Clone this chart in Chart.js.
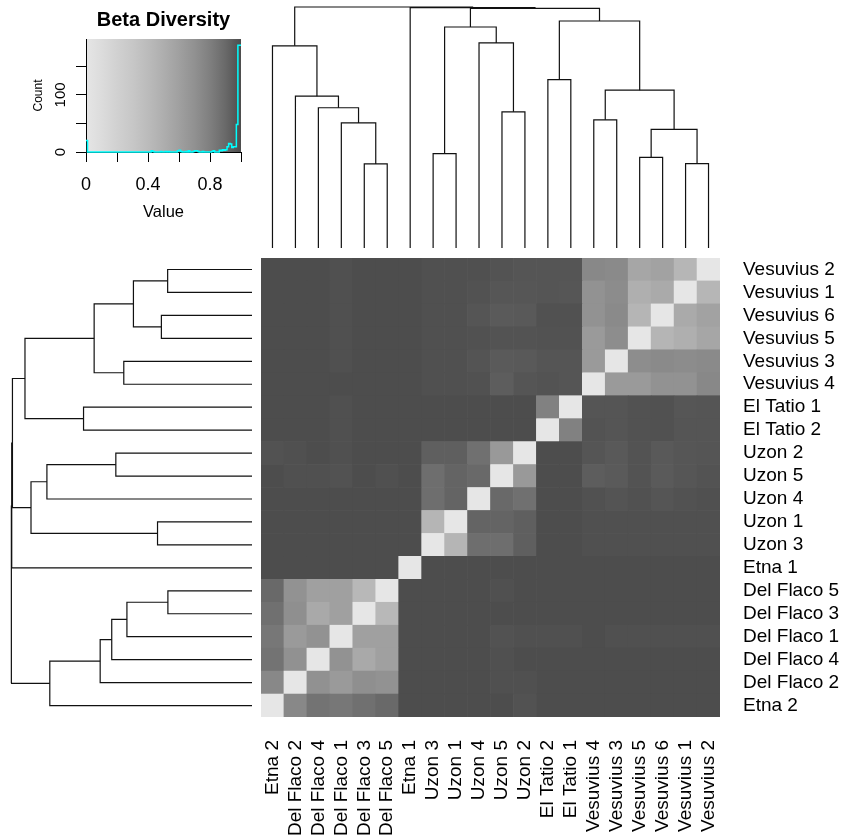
<!DOCTYPE html>
<html>
<head>
<meta charset="utf-8">
<title>Beta Diversity heatmap</title>
<script src="https://cdn.jsdelivr.net/npm/chart.js@4.4.1/dist/chart.umd.min.js"></script>
<style>
  html, body { margin: 0; padding: 0; background: #fff; }
  #wrap { position: relative; width: 843px; height: 839px; overflow: hidden; }
  canvas { position: absolute; }
</style>
</head>
<body>
<div id="wrap">
  <canvas id="key" width="255" height="235" style="left:0;top:0"></canvas>
  <canvas id="topDendro" width="459" height="258" style="left:261px;top:0"></canvas>
  <canvas id="leftDendro" width="261" height="459" style="left:0;top:258px"></canvas>
  <canvas id="heat" width="582" height="581" style="left:261px;top:258px"></canvas>
</div>
<script>
// samples in dendrogram order (columns left->right, rows bottom->top)
var sampleLabels = ['Etna 2', 'Del Flaco 2', 'Del Flaco 4', 'Del Flaco 1', 'Del Flaco 3', 'Del Flaco 5',
    'Etna 1', 'Uzon 3', 'Uzon 1', 'Uzon 4', 'Uzon 5', 'Uzon 2', 'El Tatio 2', 'El Tatio 1',
    'Vesuvius 4', 'Vesuvius 3', 'Vesuvius 5', 'Vesuvius 6', 'Vesuvius 1', 'Vesuvius 2'];

// beta diversity between samples (same order as sampleLabels)
var betaDiversity = [
    [0, .75, .86, .84, .87, .90, 1, 1, 1, 1, 1, .985, 1, 1, 1, 1, 1, 1, 1, 1],
    [.75, 0, .70, .64, .71, .69, 1, 1, 1, 1, .99, .99, 1, 1, 1, 1, 1, 1, 1, 1],
    [.86, .70, 0, .69, .54, .60, 1, 1, 1, 1, .99, 1, 1, 1, 1, 1, 1, 1, 1, 1],
    [.84, .64, .69, 0, .60, .60, 1, 1, 1, 1, .985, .99, .99, .99, 1, .99, .99, .99, .99, .99],
    [.87, .71, .54, .60, 0, .42, 1, 1, 1, 1, 1, 1, 1, 1, 1, 1, 1, 1, 1, 1],
    [.90, .69, .60, .60, .42, 0, 1, 1, 1, 1, .99, 1, 1, 1, 1, 1, 1, 1, 1, 1],
    [1, 1, 1, 1, 1, 1, 0, 1, 1, 1, 1, 1, 1, 1, 1, 1, 1, 1, 1, 1],
    [1, 1, 1, 1, 1, 1, 1, 0, .45, .88, .88, .94, 1, 1, .99, .99, .99, .99, .99, .99],
    [1, 1, 1, 1, 1, 1, 1, .45, 0, .92, .92, .94, 1, 1, .99, .99, .99, .99, .99, .99],
    [1, 1, 1, 1, 1, 1, 1, .88, .92, 0, .90, .87, 1, 1, .987, .978, .987, .975, .983, .99],
    [1, .99, .99, .985, 1, .99, 1, .88, .92, .90, 0, .65, 1, 1, .947, .958, .98, .958, .972, .982],
    [.985, .99, 1, .99, 1, 1, 1, .94, .94, .87, .65, 0, 1, 1, .975, .962, .98, .962, .972, .975],
    [1, 1, 1, .99, 1, 1, 1, 1, 1, 1, 1, 1, 0, .79, .98, .975, .984, .987, .975, .975],
    [1, 1, 1, .99, 1, 1, 1, 1, 1, 1, 1, 1, .79, 0, .975, .975, .984, .987, .972, .975],
    [1, 1, 1, 1, 1, 1, 1, .99, .99, .987, .947, .975, .98, .975, 0, .64, .64, .69, .69, .75],
    [1, 1, 1, .99, 1, 1, 1, .99, .99, .978, .958, .962, .975, .975, .64, 0, .72, .74, .73, .74],
    [1, 1, 1, .99, 1, 1, 1, .99, .99, .987, .98, .98, .984, .984, .64, .72, 0, .45, .49, .56],
    [1, 1, 1, .99, 1, 1, 1, .99, .99, .975, .958, .962, .987, .987, .69, .74, .45, 0, .53, .59],
    [1, 1, 1, .99, 1, 1, 1, .99, .99, .983, .972, .972, .975, .972, .69, .73, .49, .53, 0, .44],
    [1, 1, 1, .99, 1, 1, 1, .99, .99, .99, .982, .975, .975, .975, .75, .74, .56, .59, .44, 0]
];

// hclust style merges: negative = sample (1-based), positive = earlier merge
var mergeLeft   = [-5, -19, -17, -8, 3, -4, -15, -11, -3, -2, 7, -13, -1, -10, 4, 12, 15, -7, 13];
var mergeRight  = [-6, -20, -18, -9, 2, 1, -16, -12, 6, 9, 5, -14, 10, 8, 14, 11, 16, 17, 18];
var mergeHeight = [.349, .350, .376, .392, .492, .519, .532, .565, .582, .630, .655, .699,
    .839, .851, .917, .942, .994, .997, 1.0];

// colour key histogram (bin starts and counts, last break is 1)
var histBreaks = [0, .01, .42, .43, .44, .48, .49, .51, .52, .53, .54, .59, .60, .61, .62, .64, .65,
    .66, .67, .69, .70, .72, .73, .75, .76, .81, .82, .83, .86, .87, .88, .89, .90, .91, .92, .93,
    .94, .95, .96, .97, .98, 1];
var histCounts = [20, 0, 2, 1, 0, 1, 0, 1, 0, 1, 0, 2, 3, 1, 0, 1, 0,
    2, 0, 1, 2, 1, 0, 1, 0, 1, 2, 0, 3, 2, 4, 3, 4, 9, 15, 14,
    8, 9, 9, 48, 187];

var keyTicks = [0, 0.2, 0.4, 0.6, 0.8, 1];
var keyTickLabels = ['0', '', '0.4', '', '0.8', ''];
var countTicks = [0, 50, 100, 150];
var countTickLabels = ['0', '', '100', ''];

Chart.defaults.font.family = "'Liberation Sans', Arial, sans-serif";
Chart.defaults.color = '#000';
Chart.defaults.animation = false;
Chart.defaults.plugins.legend.display = false;
Chart.defaults.plugins.tooltip.enabled = false;

// gray.colors style ramp: 0 -> light, 1 -> dark
function grayFor(v) {
    var lo = Math.pow(0.9, 2.2), hi = Math.pow(0.3, 2.2);
    var g = Math.round(255 * Math.pow(lo + v * (hi - lo), 1 / 2.2));
    return 'rgb(' + g + ',' + g + ',' + g + ')';
}

function dendroSegments() {
    var pos = [], segs = [];
    function nodeOf(code) {
        if (code < 0) return {p: -code - 1, h: 0};
        return {p: pos[code - 1], h: mergeHeight[code - 1]};
    }
    for (var k = 0; k < mergeHeight.length; k++) {
        var a = nodeOf(mergeLeft[k]), b = nodeOf(mergeRight[k]), h = mergeHeight[k];
        pos.push((a.p + b.p) / 2);
        segs.push([{p: a.p, h: a.h}, {p: a.p, h: h}, {p: b.p, h: h}, {p: b.p, h: b.h}]);
    }
    return segs;
}

function dendroDatasets(horizontal) {
    return dendroSegments().map(function (seg) {
        return {
            data: seg.map(function (pt) { return horizontal ? {x: pt.h, y: pt.p} : {x: pt.p, y: pt.h}; }),
            showLine: true,
            borderColor: '#111',
            borderWidth: 1.2,
            pointRadius: 0,
            clip: false
        };
    });
}

var hidden = {display: false};

// top dendrogram
new Chart(document.getElementById('topDendro'), {
    type: 'scatter',
    data: {datasets: dendroDatasets(false)},
    options: {
        responsive: false,
        layout: {padding: {top: 7, bottom: 10, left: 0, right: 0}},
        scales: {
            x: {type: 'linear', min: -0.5, max: 19.5, display: false},
            y: {type: 'linear', min: 0, max: 1, display: false}
        }
    }
});

// left dendrogram
new Chart(document.getElementById('leftDendro'), {
    type: 'scatter',
    data: {datasets: dendroDatasets(true)},
    options: {
        responsive: false,
        layout: {padding: {top: 0, bottom: 0, left: 11, right: 9}},
        scales: {
            x: {type: 'linear', min: 0, max: 1, reverse: true, display: false},
            y: {type: 'linear', min: -0.5, max: 19.5, display: false}
        }
    }
});

// heatmap: one floating bar per cell
new Chart(document.getElementById('heat'), {
    type: 'bar',
    data: {
        labels: sampleLabels,
        datasets: sampleLabels.map(function (name, i) {
            return {
                label: name,
                data: sampleLabels.map(function () { return [i, i + 1]; }),
                backgroundColor: betaDiversity[i].map(grayFor),
                borderWidth: 0,
                grouped: false,
                barPercentage: 1,
                categoryPercentage: 1
            };
        })
    },
    options: {
        responsive: false,
        layout: {padding: 0},
        scales: {
            x: {
                grid: {display: false, drawTicks: false},
                border: hidden,
                ticks: {autoSkip: false, minRotation: 90, maxRotation: 90, padding: 23, font: {size: 19}},
                afterFit: function (s) { s.height = 122; s.paddingLeft = 0; s.paddingRight = 0; }
            },
            y: {
                type: 'linear',
                position: 'right',
                min: 0,
                max: 20,
                grid: {display: false, drawTicks: false},
                border: hidden,
                afterBuildTicks: function (s) {
                    s.ticks = sampleLabels.map(function (n, i) { return {value: i + 0.5}; });
                },
                ticks: {
                    autoSkip: false, padding: 23, font: {size: 19},
                    callback: function (v) { return sampleLabels[Math.floor(v)]; }
                },
                afterFit: function (s) { s.width = 123; s.paddingTop = 0; s.paddingBottom = 0; }
            }
        }
    }
});

// colour key with histogram
var histPoints = histBreaks.map(function (b, i) {
    return {x: b, y: i < histCounts.length ? histCounts[i] : histCounts[histCounts.length - 1]};
});

new Chart(document.getElementById('key'), {
    type: 'scatter',
    data: {
        datasets: [{
            data: histPoints,
            showLine: true,
            stepped: 'before',
            borderColor: '#00FFFF',
            borderWidth: 1.5,
            pointRadius: 0,
            clip: false
        }]
    },
    options: {
        responsive: false,
        layout: {padding: {top: 0, bottom: 0, left: 0, right: 14}},
        plugins: {
            title: {
                display: true, text: 'Beta Diversity', fullSize: false,
                font: {size: 20, weight: 'bold'}, padding: {top: 8, bottom: 7}
            }
        },
        scales: {
            x: {
                type: 'linear', min: 0, max: 1,
                afterBuildTicks: function (s) { s.ticks = keyTicks.map(function (v) { return {value: v}; }); },
                ticks: {
                    autoSkip: false, maxRotation: 0, padding: 12, font: {size: 18},
                    callback: function (v, i) { return keyTickLabels[i]; }
                },
                grid: {drawOnChartArea: false, tickLength: 10, color: '#000'},
                border: {display: true, color: '#000'},
                title: {display: true, text: 'Value', font: {size: 16.5}, padding: {top: 0, bottom: 13}},
                afterFit: function (s) { s.height = 83; s.paddingLeft = 0; s.paddingRight = 0; }
            },
            y: {
                type: 'linear', min: 0, max: 198,
                afterBuildTicks: function (s) { s.ticks = countTicks.map(function (v) { return {value: v}; }); },
                ticks: {
                    autoSkip: false, minRotation: 90, maxRotation: 90, crossAlign: 'center', padding: 3,
                    font: {size: 15},
                    callback: function (v, i) { return countTickLabels[i]; }
                },
                grid: {drawOnChartArea: false, tickLength: 10, color: '#000'},
                border: {display: true, color: '#000'},
                title: {display: true, text: 'Count', font: {size: 12}, padding: {top: 31, bottom: 0}},
                afterFit: function (s) { s.width = 86; s.paddingTop = 0; s.paddingBottom = 0; }
            }
        }
    },
    plugins: [{
        id: 'keyGradient',
        beforeDraw: function (chart) {
            var a = chart.chartArea, ctx = chart.ctx;
            var grad = ctx.createLinearGradient(a.left, 0, a.right, 0);
            for (var s = 0; s <= 10; s++) {
                grad.addColorStop(s / 10, grayFor(s / 10));
            }
            ctx.save();
            ctx.fillStyle = grad;
            ctx.fillRect(a.left, a.top, a.right - a.left, a.bottom - a.top);
            ctx.restore();
        }
    }]
});
</script>
</body>
</html>
